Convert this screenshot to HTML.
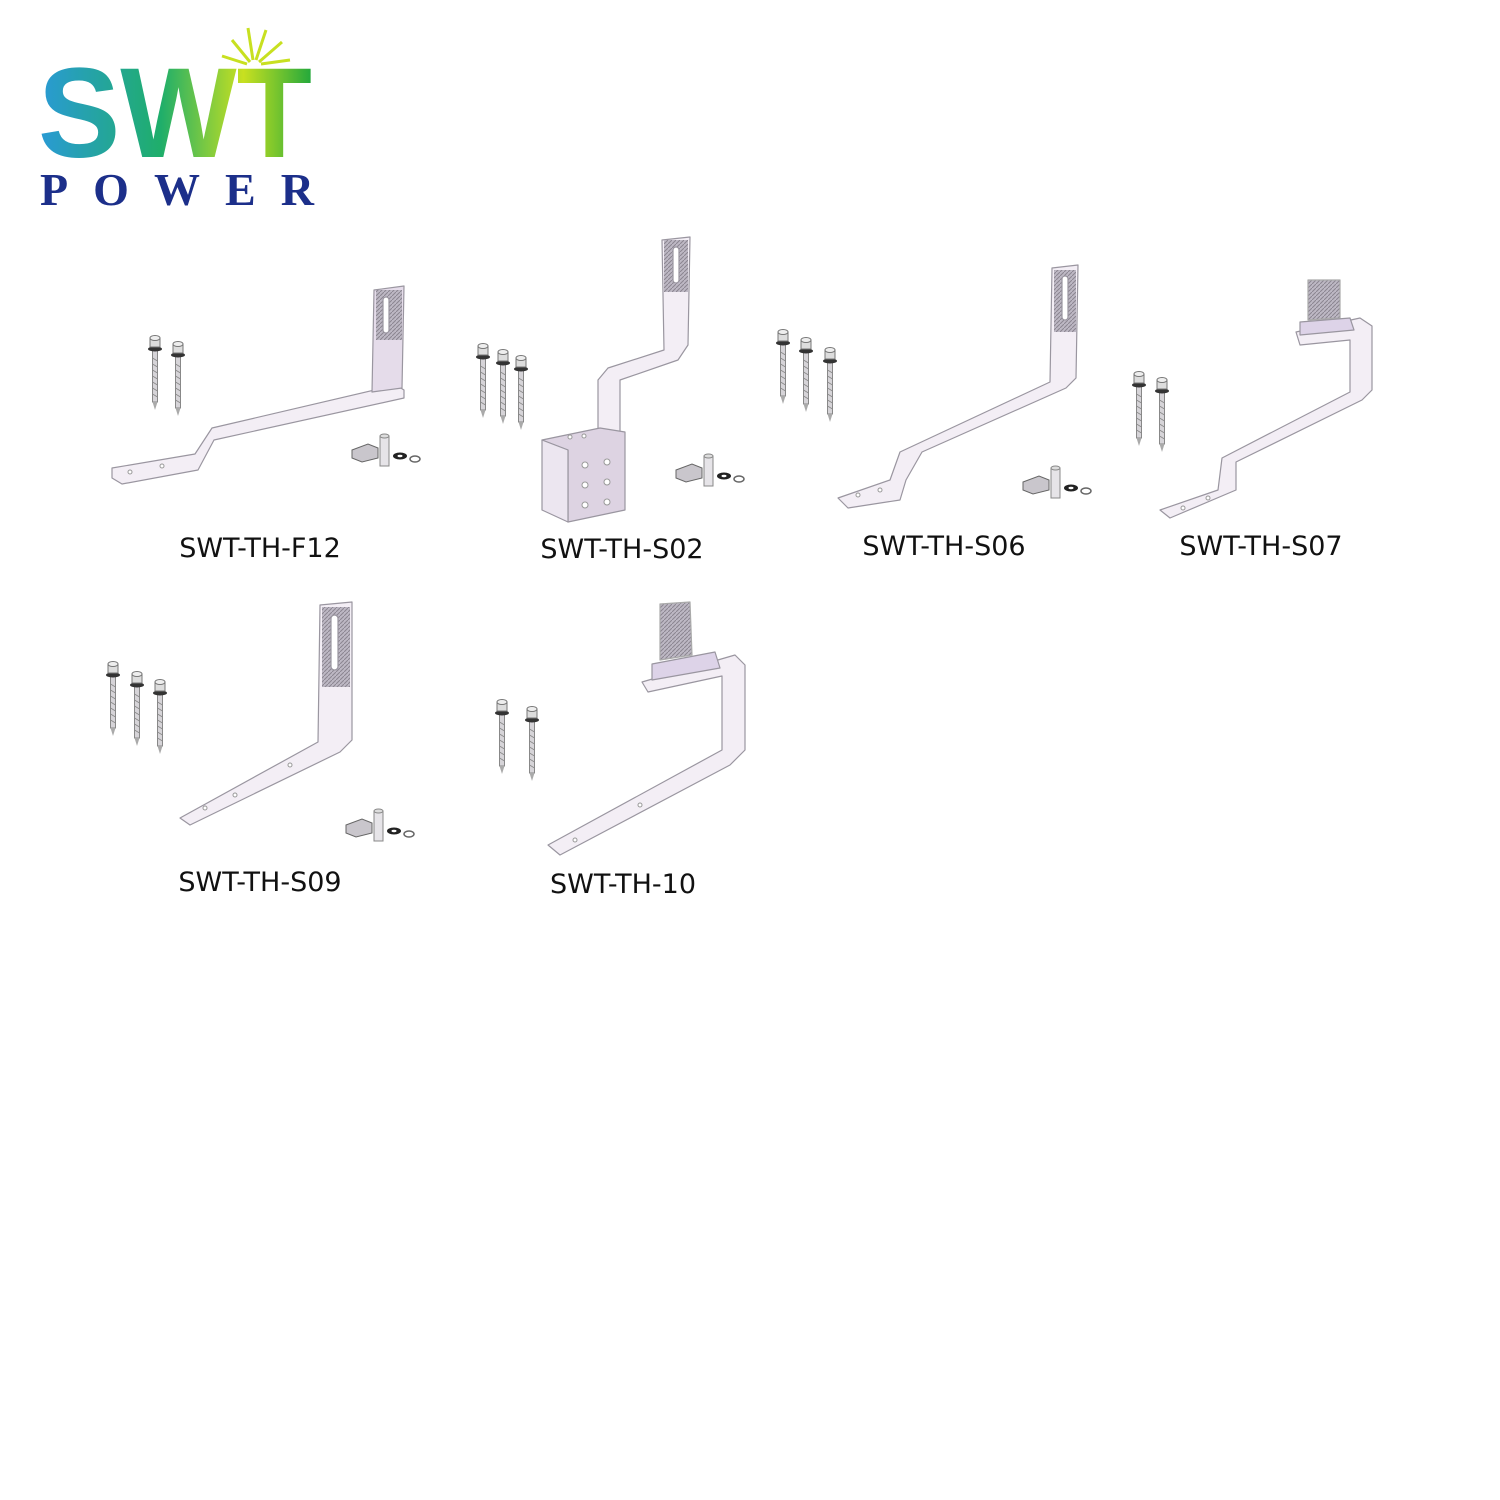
<!DOCTYPE html>
<html><head><meta charset="utf-8"><style>
html,body{margin:0;padding:0;background:#fff;}
svg{display:block}
</style></head><body>
<svg width="1500" height="1500" viewBox="0 0 1500 1500" xmlns="http://www.w3.org/2000/svg">
<defs>
<linearGradient id="lg" x1="0" y1="0" x2="1" y2="0">
<stop offset="0" stop-color="#2a9ad6"/><stop offset="0.45" stop-color="#1fae6a"/><stop offset="0.75" stop-color="#c8e020"/><stop offset="1" stop-color="#22a83c"/>
</linearGradient>
<pattern id="knurl" width="4" height="4" patternUnits="userSpaceOnUse">
<rect width="4" height="4" fill="#bdb8c4"/><path d="M0 4L4 0" stroke="#8a8590" stroke-width="1"/>
</pattern>
<g id="screw">
<rect x="-2.5" y="6" width="5" height="52" fill="#d6d4d8" stroke="#888" stroke-width="1"/>
<path d="M-2.5 58 L0 66 L2.5 58Z" fill="#aaa"/>
<path d="M-2.5 14 L2.5 17 M-2.5 20 L2.5 23 M-2.5 26 L2.5 29 M-2.5 32 L2.5 35 M-2.5 38 L2.5 41 M-2.5 44 L2.5 47 M-2.5 50 L2.5 53" stroke="#888" stroke-width="0.8"/>
<ellipse cx="0" cy="5" rx="7" ry="2.5" fill="#333"/>
<rect x="-5" y="-6" width="10" height="9" fill="#ddd" stroke="#777"/>
<ellipse cx="0" cy="-6" rx="5" ry="2.5" fill="#eee" stroke="#777"/>
</g>
<g id="kit">
<path d="M0 0 L16 -6 L26 -2 L26 8 L10 12 L0 8Z" fill="#c9c6cc" stroke="#666"/>
<rect x="28" y="-14" width="9" height="30" fill="#e6e4e8" stroke="#888"/>
<ellipse cx="32.5" cy="-14" rx="4.5" ry="2" fill="#ddd" stroke="#888"/>
<ellipse cx="48" cy="6" rx="7" ry="3.5" fill="#222"/><ellipse cx="48" cy="6" rx="2.5" ry="1.2" fill="#fff"/>
<ellipse cx="63" cy="9" rx="5" ry="3" fill="#fff" stroke="#666" stroke-width="1.5"/>
</g>
</defs>
<g fill="#f3eef5" stroke="#9a96a0" stroke-width="1.2" stroke-linejoin="round">
<path d="M112 468 L195 454 L212 428 L396 385 L404 390 L404 398 L214 440 L198 470 L122 484 L112 478Z"/>
<path d="M374 290 L404 286 L402 388 L372 392Z" fill="#e5dcea"/>
<rect x="376" y="290" width="26" height="50" fill="url(#knurl)" stroke="none"/>
<rect x="383" y="297" width="6" height="36" rx="3" fill="#fff"/>
<path d="M662 240 L690 237 L688 345 L678 360 L620 380 L620 435 L598 440 L598 380 L608 368 L664 350Z" fill="#f3eef5"/>
<rect x="664" y="240" width="24" height="52" fill="url(#knurl)" stroke="none"/>
<rect x="673" y="247" width="6" height="36" rx="3" fill="#fff"/>
<path d="M542 440 L600 428 L625 432 L625 510 L568 522 L568 450Z" fill="#ddd3e2"/>
<path d="M542 440 L568 450 L568 522 L542 510Z" fill="#ece6f0"/>
<path d="M1052 268 L1078 265 L1076 378 L1066 388 L922 452 L906 480 L900 500 L848 508 L838 498 L890 480 L900 452 L1050 382Z"/>
<rect x="1054" y="270" width="22" height="62" fill="url(#knurl)" stroke="none"/>
<rect x="1062" y="276" width="6" height="44" rx="3" fill="#fff"/>
<path d="M1296 332 L1360 318 L1372 326 L1372 390 L1362 400 L1236 462 L1236 490 L1170 518 L1160 510 L1218 490 L1222 458 L1350 392 L1350 340 L1300 345Z"/>
<path d="M1308 280 L1340 280 L1340 318 L1308 320Z" fill="url(#knurl)" stroke="#aaa"/>
<path d="M1300 322 L1350 318 L1354 330 L1300 335Z" fill="#ddd3e8"/>
<path d="M320 605 L352 602 L352 740 L340 752 L190 825 L180 818 L318 742Z"/>
<rect x="322" y="607" width="28" height="80" fill="url(#knurl)" stroke="none"/>
<rect x="331" y="615" width="7" height="55" rx="3.5" fill="#fff"/>
<path d="M642 682 L735 655 L745 665 L745 750 L730 765 L560 855 L548 845 L722 750 L722 676 L648 692Z"/>
<path d="M660 604 L690 602 L692 655 L660 660Z" fill="url(#knurl)" stroke="#aaa"/>
<path d="M652 664 L715 652 L720 668 L652 680Z" fill="#ddd3e8"/>
</g>
<g fill="#fff" stroke="#999">
<circle cx="130" cy="472" r="2"/><circle cx="162" cy="466" r="2"/>
<circle cx="570" cy="437" r="2"/><circle cx="584" cy="436" r="2"/>
<circle cx="585" cy="465" r="3"/><circle cx="607" cy="462" r="3"/><circle cx="585" cy="485" r="3"/><circle cx="607" cy="482" r="3"/><circle cx="585" cy="505" r="3"/><circle cx="607" cy="502" r="3"/>
<circle cx="858" cy="495" r="2"/><circle cx="880" cy="490" r="2"/>
<circle cx="1183" cy="508" r="2"/><circle cx="1208" cy="498" r="2"/>
<circle cx="205" cy="808" r="2"/><circle cx="235" cy="795" r="2"/><circle cx="290" cy="765" r="2"/>
<circle cx="575" cy="840" r="2"/><circle cx="640" cy="805" r="2"/>
</g>
<use href="#screw" x="155" y="344"/><use href="#screw" x="178" y="350"/>
<use href="#screw" x="483" y="352"/><use href="#screw" x="503" y="358"/><use href="#screw" x="521" y="364"/>
<use href="#screw" x="783" y="338"/><use href="#screw" x="806" y="346"/><use href="#screw" x="830" y="356"/>
<use href="#screw" x="1139" y="380"/><use href="#screw" x="1162" y="386"/>
<use href="#screw" x="113" y="670"/><use href="#screw" x="137" y="680"/><use href="#screw" x="160" y="688"/>
<use href="#screw" x="502" y="708"/><use href="#screw" x="532" y="715"/>
<use href="#kit" x="352" y="450"/><use href="#kit" x="676" y="470"/><use href="#kit" x="1023" y="482"/><use href="#kit" x="346" y="825"/>
<g font-family="DejaVu Sans, Liberation Sans, sans-serif" font-size="27" fill="#111" text-anchor="middle">
<text x="260" y="557">SWT-TH-F12</text>
<text x="622" y="558">SWT-TH-S02</text>
<text x="944" y="555">SWT-TH-S06</text>
<text x="1261" y="555">SWT-TH-S07</text>
<text x="260" y="891">SWT-TH-S09</text>
<text x="623" y="893">SWT-TH-10</text>
</g>
<g stroke="#c8e020" stroke-width="3">
<path d="M250 62 L232 40 M253 60 L248 28 M256 60 L266 30 M259 62 L282 42 M261 64 L290 60 M247 64 L222 56"/>
</g>
<text x="38" y="157" font-family="Liberation Sans, sans-serif" font-weight="bold" font-size="128" textLength="274" lengthAdjust="spacingAndGlyphs" fill="url(#lg)">SWT</text>
<text x="40" y="205" font-family="Liberation Serif, serif" font-weight="bold" font-size="46" textLength="274" lengthAdjust="spacing" fill="#1c2f8a">POWER</text>
</svg>
</body></html>
